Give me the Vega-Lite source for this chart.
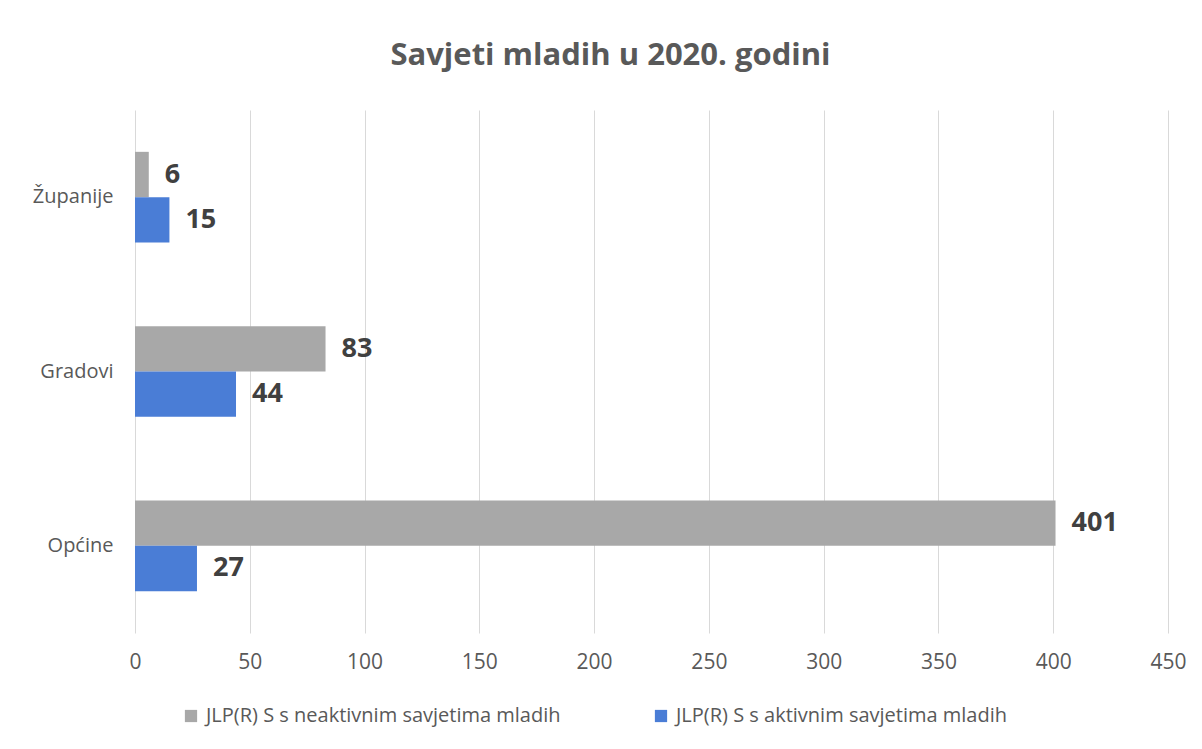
{
  "$schema": "https://vega.github.io/schema/vega-lite/v6.json",
  "autosize": {"type": "none"},
  "width": 1033,
  "height": 523,
  "padding": {"left": 135, "top": 110, "right": 34, "bottom": 116},
  "background": "white",
  "config": {
    "font": "Lato",
    "view": {"stroke": null}
  },
  "title": {
    "text": "Savjeti mladih u 2020. godini",
    "fontSize": 31,
    "fontWeight": "bold",
    "color": "#595959",
    "font": "Open Sans",
    "anchor": "middle",
    "dx": -41,
    "offset": 38
  },
  "data": {
    "values": [
      {"kategorija": "Županije", "serija": "JLP(R) S s neaktivnim savjetima mladih", "red": 1, "vrijednost": 6},
      {"kategorija": "Županije", "serija": "JLP(R) S s aktivnim savjetima mladih", "red": 2, "vrijednost": 15},
      {"kategorija": "Gradovi", "serija": "JLP(R) S s neaktivnim savjetima mladih", "red": 1, "vrijednost": 83},
      {"kategorija": "Gradovi", "serija": "JLP(R) S s aktivnim savjetima mladih", "red": 2, "vrijednost": 44},
      {"kategorija": "Općine", "serija": "JLP(R) S s neaktivnim savjetima mladih", "red": 1, "vrijednost": 401},
      {"kategorija": "Općine", "serija": "JLP(R) S s aktivnim savjetima mladih", "red": 2, "vrijednost": 27}
    ]
  },
  "encoding": {
    "y": {
      "field": "kategorija",
      "type": "nominal",
      "sort": ["Županije", "Gradovi", "Općine"],
      "scale": {"paddingInner": 0.48, "paddingOuter": 0.24},
      "axis": {
        "title": null,
        "domain": false,
        "ticks": false,
        "labelFontSize": 20,
        "labelColor": "#595959",
        "labelPadding": 22,
        "labelFont": "Open Sans"
      }
    },
    "yOffset": {
      "field": "serija",
      "type": "nominal",
      "sort": ["JLP(R) S s neaktivnim savjetima mladih", "JLP(R) S s aktivnim savjetima mladih"],
      "scale": {"paddingInner": 0, "paddingOuter": 0}
    },
    "x": {
      "field": "vrijednost",
      "type": "quantitative",
      "scale": {"domain": [0, 450], "nice": false},
      "axis": {
        "title": null,
        "values": [0, 50, 100, 150, 200, 250, 300, 350, 400, 450],
        "domain": false,
        "ticks": false,
        "grid": true,
        "gridColor": "#d9d9d9",
        "gridWidth": 1,
        "labelFontSize": 21,
        "labelColor": "#595959",
        "labelPadding": 18,
        "labelFlush": false,
        "labelFont": "Open Sans"
      }
    }
  },
  "layer": [
    {
      "mark": {"type": "bar"},
      "encoding": {
        "color": {
          "field": "serija",
          "type": "nominal",
          "sort": ["JLP(R) S s neaktivnim savjetima mladih", "JLP(R) S s aktivnim savjetima mladih"],
          "scale": {
            "domain": ["JLP(R) S s neaktivnim savjetima mladih", "JLP(R) S s aktivnim savjetima mladih"],
            "range": ["#a8a8a8", "#4a7dd6"]
          },
          "legend": {
            "title": null,
            "orient": "none",
            "direction": "horizontal",
            "legendX": 46,
            "legendY": 596,
            "symbolType": "square",
            "symbolSize": 150,
            "symbolStrokeWidth": 0,
            "labelFontSize": 20,
            "labelColor": "#595959",
            "labelFont": "Open Sans",
            "labelOffset": 5,
            "columnPadding": 90,
            "labelLimit": 500
          }
        }
      }
    },
    {
      "mark": {
        "type": "text",
        "align": "left",
        "baseline": "middle",
        "dx": 16,
        "fontSize": 27,
        "fontWeight": "bold",
        "font": "Open Sans",
        "color": "#404040"
      },
      "encoding": {
        "text": {"field": "vrijednost", "type": "quantitative"}
      }
    }
  ]
}
